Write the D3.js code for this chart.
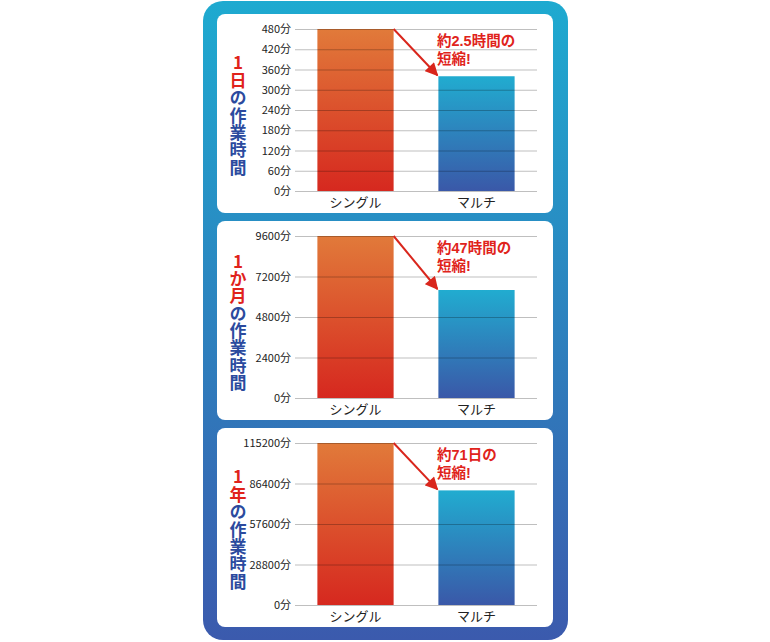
<!DOCTYPE html>
<html>
<head>
<meta charset="utf-8">
<script src="https://cdn.jsdelivr.net/npm/d3@7"></script>
<style>
  body { margin: 0; background: #fff; }
  svg { display: block; font-family: "Noto Sans CJK JP", "Noto Sans", sans-serif; }
  .vtitle { writing-mode: vertical-rl; text-orientation: upright; }
</style>
</head>
<body>
<script>
// chart data
var categories = ['シングル', 'マルチ'];
var titleRed = ['1日', '1か月', '1年'];
var titleBlue = ['の作業時間', 'の作業時間', 'の作業時間'];
var singleValues = [480, 9600, 115200];
var multiValues = [340, 6400, 81500];
var tickValues = [
  [0, 60, 120, 180, 240, 300, 360, 420, 480],
  [0, 2400, 4800, 7200, 9600],
  [0, 28800, 57600, 86400, 115200]
];
var noteLine1 = ['約2.5時間の', '約47時間の', '約71日の'];
var noteLine2 = ['短縮!', '短縮!', '短縮!'];

var w = 770, h = 642;
var panelTops = [14, 221, 428];
var panelH = 199;

var svg = d3.select('body').append('svg')
  .attr('width', w)
  .attr('height', h);

var defs = svg.append('defs');

function vGrad(id, top, bottom) {
  var g = defs.append('linearGradient')
    .attr('id', id)
    .attr('x1', 0).attr('y1', 0).attr('x2', 0).attr('y2', 1);
  g.append('stop').attr('offset', '0%').attr('stop-color', top);
  g.append('stop').attr('offset', '100%').attr('stop-color', bottom);
}
vGrad('bgGrad', '#1eaad0', '#3b5aad');
vGrad('singleGrad', '#e17a3a', '#d6281f');
vGrad('multiGrad', '#21acd0', '#3a58a8');

defs.append('marker')
  .attr('id', 'arrowHead')
  .attr('viewBox', '0 0 10 10')
  .attr('refX', 9)
  .attr('refY', 5)
  .attr('markerWidth', 7)
  .attr('markerHeight', 6.5)
  .attr('markerUnits', 'strokeWidth')
  .attr('orient', 'auto')
  .append('path')
  .attr('d', 'M0,0L10,5L0,10Z')
  .attr('fill', '#d9261c');

// outer rounded frame
svg.append('rect')
  .attr('x', 203).attr('y', 1)
  .attr('width', 365).attr('height', 639)
  .attr('rx', 20)
  .attr('fill', 'url(#bgGrad)');

var x = d3.scaleBand()
  .domain(categories)
  .range([295, 537])
  .paddingInner(0.37)
  .paddingOuter(0.185);

panelTops.forEach(function(top, i) {
  var g = svg.append('g');

  g.append('rect')
    .attr('x', 217).attr('y', top)
    .attr('width', 336).attr('height', panelH)
    .attr('rx', 8)
    .attr('fill', '#fff');

  var y = d3.scaleLinear()
    .domain([0, singleValues[i]])
    .range([top + 177, top + 15]);

  var vals = [singleValues[i], multiValues[i]];
  g.selectAll('rect.bar')
    .data(vals)
    .enter()
    .append('rect')
    .attr('class', 'bar')
    .attr('x', function(d, j) { return x(categories[j]); })
    .attr('y', function(d) { return y(d); })
    .attr('width', x.bandwidth())
    .attr('height', function(d) { return y(0) - y(d); })
    .attr('fill', function(d, j) { return j === 0 ? 'url(#singleGrad)' : 'url(#multiGrad)'; });

  // gridlines drawn over the bars
  var axis = d3.axisLeft(y)
    .tickValues(tickValues[i])
    .tickSize(-(x.range()[1] - x.range()[0]))
    .tickPadding(4)
    .tickFormat(function(d) { return d + '分'; });

  var ax = g.append('g')
    .attr('transform', 'translate(295,0)')
    .call(axis);
  ax.select('.domain').remove();
  ax.selectAll('.tick line')
    .attr('stroke', '#000')
    .attr('stroke-opacity', 0.25)
    .attr('stroke-width', 1);
  ax.selectAll('.tick text')
    .attr('fill', '#222')
    .attr('font-size', 11)
    .attr('font-family', 'Noto Sans CJK JP');

  // category labels
  g.selectAll('text.cat')
    .data(categories)
    .enter()
    .append('text')
    .attr('class', 'cat')
    .attr('x', function(d) { return x(d) + x.bandwidth() / 2; })
    .attr('y', top + 193)
    .attr('text-anchor', 'middle')
    .attr('font-size', 13)
    .attr('fill', '#222')
    .text(function(d) { return d; });

  // vertical title
  var n = Array.from(titleRed[i] + titleBlue[i]).length;
  var vt = g.append('text')
    .attr('class', 'vtitle')
    .attr('x', 238)
    .attr('y', top + 101 - n * 17.3 / 2)
    .attr('font-size', 17)
    .attr('font-weight', 'bold')
    .attr('letter-spacing', 0.3);
  vt.append('tspan').attr('fill', '#e0231b').text(titleRed[i]);
  vt.append('tspan').attr('fill', '#2b4a9e').text(titleBlue[i]);

  // arrow from single to multi
  var x1 = x(categories[0]) + x.bandwidth();
  var y1 = y(singleValues[i]);
  var x2 = x(categories[1]) - 1;
  var y2 = y(multiValues[i]) - 1;
  g.append('line')
    .attr('x1', x1).attr('y1', y1)
    .attr('x2', x2).attr('y2', y2)
    .attr('stroke', '#d9261c')
    .attr('stroke-width', 2)
    .attr('marker-end', 'url(#arrowHead)');

  // note
  var note = g.append('text')
    .attr('font-family', '"Liberation Sans", "Noto Sans CJK JP", sans-serif')
    .attr('font-size', 14.5)
    .attr('font-weight', 'bold')
    .attr('fill', '#e0231b');
  note.append('tspan')
    .attr('x', 437)
    .attr('y', top + 32)
    .text(noteLine1[i]);
  note.append('tspan')
    .attr('x', 437)
    .attr('y', top + 50)
    .text(noteLine2[i]);
});
</script>
</body>
</html>
